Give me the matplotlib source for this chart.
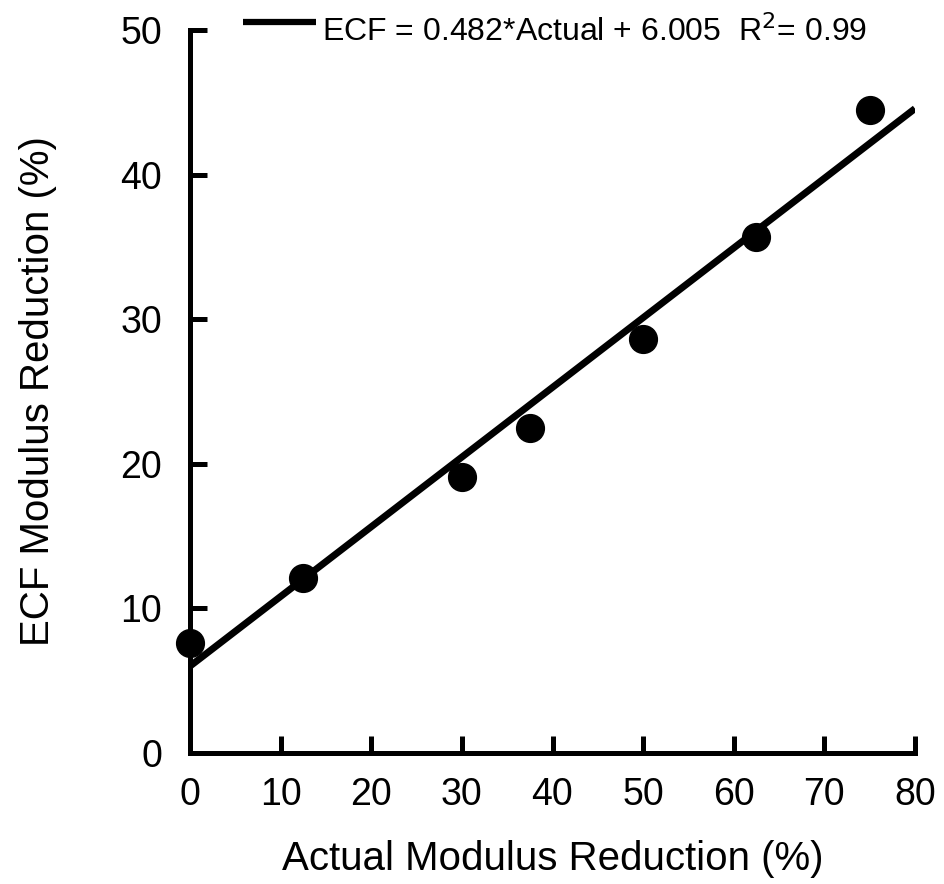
import matplotlib
matplotlib.use("Agg")
import matplotlib.pyplot as plt
from matplotlib.lines import Line2D
import numpy as np

plt.rcParams['font.family'] = ['Liberation Sans', 'DejaVu Sans']

actual = [0, 12.5, 30, 37.5, 50, 62.5, 75]
ecf = [7.6, 12.1, 19.1, 22.5, 28.6, 35.7, 44.5]
slope = 0.482
intercept = 6.005
xticks = [0, 10, 20, 30, 40, 50, 60, 70, 80]
yticks = [0, 10, 20, 30, 40, 50]
legend_text = 'ECF = 0.482*Actual + 6.005  R$^2$= 0.99'

fig = plt.figure(figsize=(9.44, 8.84), dpi=100)
ax = fig.add_axes([190/944, 1-753/884, (915-190)/944, (753-30)/884])

xl = np.array([0, 80])
ax.plot(xl, slope*xl + intercept, color='black', lw=5, solid_capstyle='butt')
ax.plot(actual, ecf, 'o', color='black', ms=20, clip_on=False, zorder=5)

ax.set_xlim(0, 80)
ax.set_ylim(0, 50)
ax.set_xticks(xticks)
ax.set_yticks(yticks)
for s in ['top', 'right']:
    ax.spines[s].set_visible(False)
for s in ['left', 'bottom']:
    ax.spines[s].set_linewidth(3.6)
ax.tick_params(direction='in', length=12, width=3.6, labelsize=27)
ax.tick_params(axis='x', pad=17)
ax.tick_params(axis='y', pad=20)
ax.set_xlabel('Actual Modulus Reduction (%)', fontsize=29, labelpad=20)
ax.set_ylabel('ECF Modulus Reduction (%)', fontsize=29, labelpad=46)

# legend drawn at the top in figure coordinates
fig.add_artist(Line2D([243/944, 316/944], [1-22/884, 1-22/884], color='black',
                      lw=4.5, solid_capstyle='butt', transform=fig.transFigure))
fig.text(322/944, 1-32/884, legend_text, fontsize=23, ha='left', va='center')

fig.savefig('out.png', dpi=100)
